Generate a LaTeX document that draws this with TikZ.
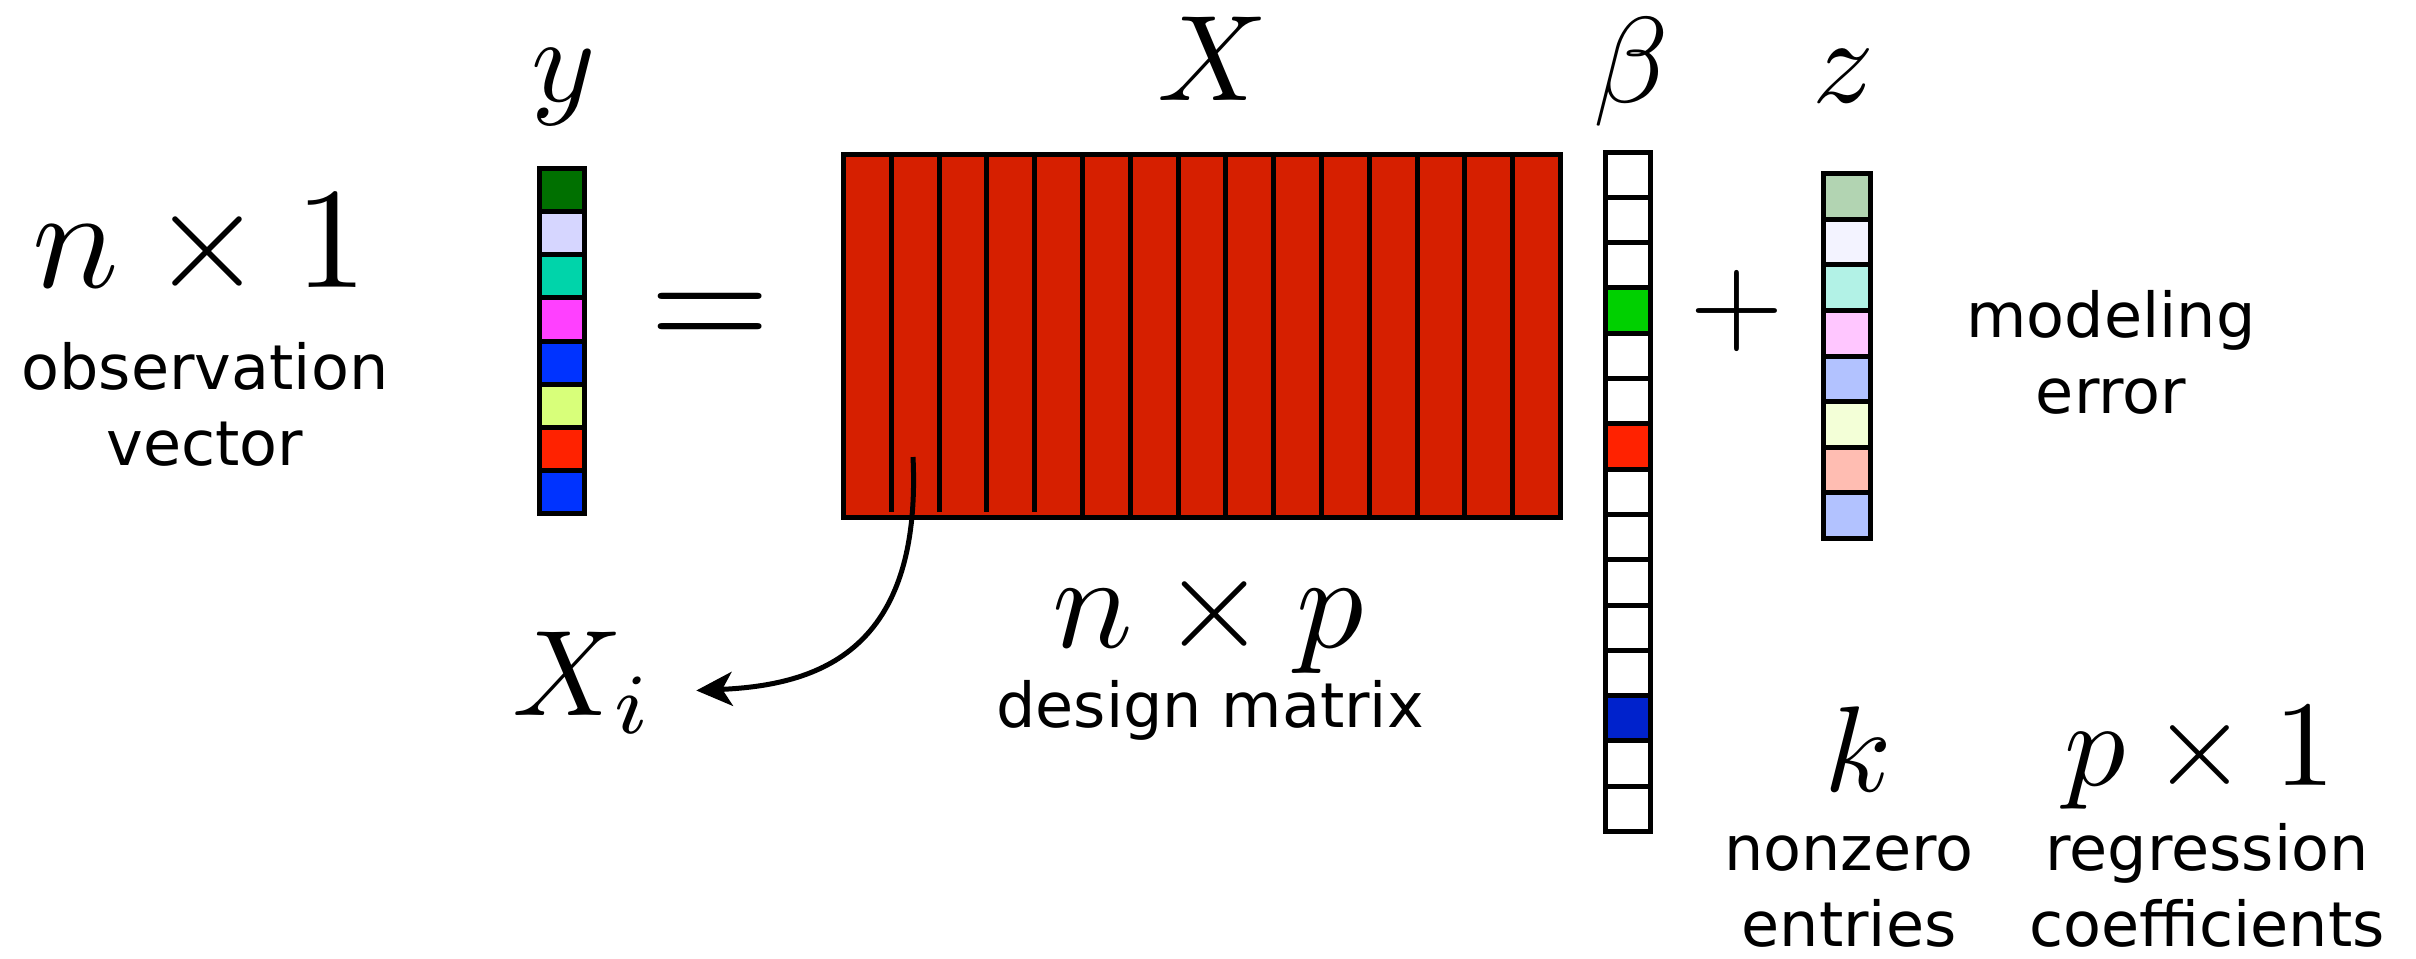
\documentclass[tikz,border=0pt]{standalone}
\usepackage{fontspec}
\setsansfont{DejaVu Sans}
\usetikzlibrary{arrows.meta}
\definecolor{obsA}{RGB}{0,112,0}
\definecolor{obsB}{RGB}{214,214,255}
\definecolor{obsC}{RGB}{0,212,170}
\definecolor{obsD}{RGB}{255,64,255}
\definecolor{obsE}{RGB}{0,51,255}
\definecolor{obsF}{RGB}{216,255,122}
\definecolor{obsG}{RGB}{255,34,0}
\definecolor{designred}{RGB}{214,31,0}
\definecolor{betaG}{RGB}{0,208,0}
\definecolor{betaR}{RGB}{255,34,0}
\definecolor{betaB}{RGB}{0,34,204}
\tikzset{
  cellbox/.style={draw=black, line width=1.25pt},
  mathlabel/.style={anchor=base, inner sep=0pt, font=\fontsize{10}{12}\selectfont,
    scale=#1, transform shape},
  mathlabel/.default=3.05,
  wordlabel/.style={anchor=base, inner sep=0pt, align=center,
    font=\sffamily\fontsize{15.5}{19}\selectfont},
}

\begin{document}
\begin{tikzpicture}[x=0.25pt, y=-0.25pt]
\useasboundingbox (0,0) rectangle (2416,958);
\def\colw{47.8}

% observation vector y
\foreach \c [count=\i from 0] in {obsA,obsB,obsC,obsD,obsE,obsF,obsG,obsE}
  \draw[cellbox, fill=\c] (539.5,{168.5+43.125*\i}) rectangle ++(45,43.125);

% design matrix X, 15 columns
\draw[cellbox, fill=designred] (843.5,154.5) rectangle (1560.5,517.5);
\foreach \k in {1,...,4}
  \draw[line width=1.25pt] ({843.5+\colw*\k},154.5) -- ++(0,357);
\foreach \k in {5,...,14}
  \draw[line width=1.25pt] ({843.5+\colw*\k},154.5) -- ++(0,363);

% sparse coefficients beta
\foreach \c [count=\i from 0] in {white,white,white,betaG,white,white,betaR,white,
  white,white,white,white,betaB,white,white}
  \draw[cellbox, fill=\c] (1605.5,{152+45.3*\i}) rectangle ++(45,45.3);

% error vector z
\foreach \c [count=\i from 0] in {obsA,obsB,obsC,obsD,obsE,obsF,obsG,obsE}
  \draw[cellbox, fill=\c!30] (1823.5,{173.5+45.625*\i}) rectangle ++(47,45.625);

\node[mathlabel] (ylab) at (564,101) {$y$};
\node[mathlabel] (xlab) at (1213,100) {$X$};
\node[mathlabel] (blab) at (1631,102) {$\beta$};
\node[mathlabel] (zlab) at (1844,102) {$z$};

% base anchor of a two-line label sits on its last line
\node[mathlabel=3.6] (ndim) at (200,287) {$n\times 1$};
\node[wordlabel] (obs) at (205,465) {observation\\vector};

\node[mathlabel=3.9] (eq) at (710,350) {$=$};
\node[mathlabel] (plus) at (1737,341) {$+$};

\node[mathlabel=3.35] (npdim) at (1208,647) {$n\times p$};
\node[wordlabel] (design) at (1210,727) {design matrix};

\node[wordlabel] (err) at (2111,413) {modeling\\error};

\node[mathlabel] (klab) at (1858,791) {$k$};
\node[mathlabel] (pdim) at (2200,785) {$p\times 1$};
\node[wordlabel] (nz) at (1849,946) {nonzero\\entries};
\node[wordlabel] (reg) at (2207,946) {regression\\coefficients};

% one column picked out
\node[mathlabel] (xi) at (583,715) {$X_i$};
\coordinate (xcol) at (913,457);
\draw[line width=1.25pt, -{Stealth[length=9pt, width=8.5pt, inset=2.5pt]}]
  (xcol) .. controls (922,650) and (820,685) .. ([shift={(40,8)}]xi.east);
\end{tikzpicture}
\end{document}
